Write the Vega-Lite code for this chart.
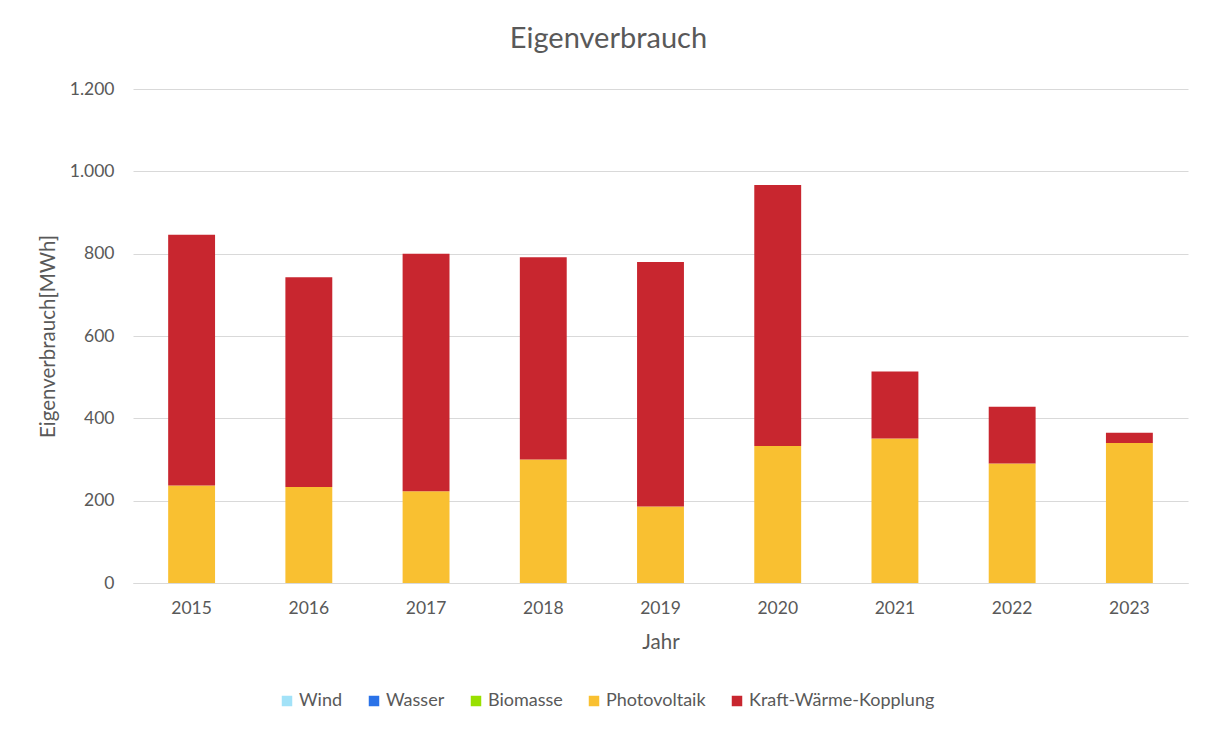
{
  "$schema": "https://vega.github.io/schema/vega-lite/v6.json",
  "width": 1055,
  "height": 494,
  "autosize": {"type": "none"},
  "padding": {"left": 133, "top": 89, "right": 19, "bottom": 148},
  "background": "white",
  "title": {
    "text": "Eigenverbrauch",
    "fontSize": 29,
    "font": "Lato",
    "fontWeight": "normal",
    "color": "#595959",
    "offset": 26,
    "anchor": "middle",
    "dx": -52
  },
  "data": {
    "values": [
      {"Jahr": "2015", "Quelle": "Photovoltaik", "MWh": 237},
      {"Jahr": "2015", "Quelle": "Kraft-Wärme-Kopplung", "MWh": 609},
      {"Jahr": "2016", "Quelle": "Photovoltaik", "MWh": 233},
      {"Jahr": "2016", "Quelle": "Kraft-Wärme-Kopplung", "MWh": 510},
      {"Jahr": "2017", "Quelle": "Photovoltaik", "MWh": 223},
      {"Jahr": "2017", "Quelle": "Kraft-Wärme-Kopplung", "MWh": 577},
      {"Jahr": "2018", "Quelle": "Photovoltaik", "MWh": 300},
      {"Jahr": "2018", "Quelle": "Kraft-Wärme-Kopplung", "MWh": 491},
      {"Jahr": "2019", "Quelle": "Photovoltaik", "MWh": 186},
      {"Jahr": "2019", "Quelle": "Kraft-Wärme-Kopplung", "MWh": 594},
      {"Jahr": "2020", "Quelle": "Photovoltaik", "MWh": 333},
      {"Jahr": "2020", "Quelle": "Kraft-Wärme-Kopplung", "MWh": 634},
      {"Jahr": "2021", "Quelle": "Photovoltaik", "MWh": 351},
      {"Jahr": "2021", "Quelle": "Kraft-Wärme-Kopplung", "MWh": 163},
      {"Jahr": "2022", "Quelle": "Photovoltaik", "MWh": 290},
      {"Jahr": "2022", "Quelle": "Kraft-Wärme-Kopplung", "MWh": 138},
      {"Jahr": "2023", "Quelle": "Photovoltaik", "MWh": 340},
      {"Jahr": "2023", "Quelle": "Kraft-Wärme-Kopplung", "MWh": 25}
    ]
  },
  "mark": {"type": "bar"},
  "encoding": {
    "x": {
      "field": "Jahr",
      "type": "ordinal",
      "scale": {"paddingInner": 0.6, "paddingOuter": 0.3},
      "axis": {
        "title": "Jahr",
        "labelAngle": 0,
        "ticks": false,
        "domain": true,
        "domainColor": "#d9d9d9",
        "labelPadding": 16,
        "titlePadding": 16
      }
    },
    "y": {
      "field": "MWh",
      "type": "quantitative",
      "stack": "zero",
      "scale": {"domain": [0, 1200], "nice": false},
      "axis": {
        "title": "Eigenverbrauch[MWh]",
        "values": [0, 200, 400, 600, 800, 1000, 1200],
        "labelExpr": "replace(format(datum.value, ','), ',', '.')",
        "ticks": false,
        "domain": false,
        "labelPadding": 19,
        "titlePadding": 11,
        "gridColor": "#d9d9d9"
      }
    },
    "color": {
      "field": "Quelle",
      "type": "nominal",
      "scale": {
        "domain": ["Wind", "Wasser", "Biomasse", "Photovoltaik", "Kraft-Wärme-Kopplung"],
        "range": ["#a2e2f8", "#2a72e8", "#98e000", "#f9c031", "#c8262f"]
      },
      "legend": {
        "title": null,
        "orient": "none",
        "direction": "horizontal",
        "legendX": 145,
        "legendY": 603,
        "symbolType": "square",
        "symbolSize": 110,
        "symbolStrokeWidth": 0,
        "symbolOpacity": 1,
        "columnPadding": 22,
        "labelOffset": 3,
        "labelLimit": 0
      }
    },
    "order": {"field": "Quelle", "sort": "descending"}
  },
  "config": {
    "font": "Lato",
    "view": {"stroke": null},
    "axis": {
      "labelFont": "Lato",
      "labelFontSize": 17.5,
      "labelColor": "#595959",
      "titleFont": "Lato",
      "titleFontSize": 20.5,
      "titleFontWeight": "normal",
      "titleColor": "#595959"
    },
    "legend": {
      "labelFont": "Lato",
      "labelFontSize": 18,
      "labelColor": "#595959"
    }
  }
}
